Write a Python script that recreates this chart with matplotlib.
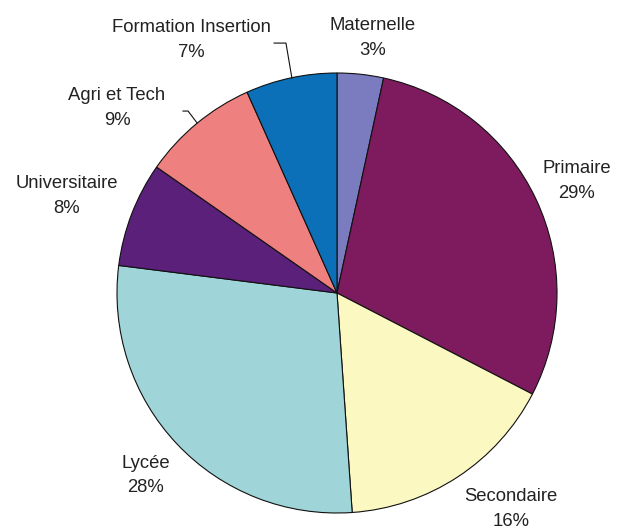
import matplotlib
matplotlib.use("Agg")
import matplotlib.pyplot as plt

categories = ["Maternelle", "Primaire", "Secondaire", "Lycée",
              "Universitaire", "Agri et Tech", "Formation Insertion"]
shares = [3.4, 29.2, 16.3, 28.1, 7.7, 8.6, 6.7]
colors = ["#7b7bc0", "#7e1b5e", "#fcf8c2", "#9fd5d8",
          "#5b2079", "#ee8080", "#0b70b8"]

# label anchors (pie radius = 1) and leader lines
label_pos = [(0.16, 1.16), (1.09, 0.51), (0.79, -0.98), (-0.87, -0.83),
             (-1.23, 0.44), (-1.00, 0.84), (-0.66, 1.15)]
leaders = {
    "Formation Insertion": ([-0.286, -0.232, -0.205], [1.136, 1.136, 0.977]),
    "Agri et Tech": ([-0.700, -0.677, -0.636], [0.827, 0.827, 0.773]),
}

plt.rcParams["font.family"] = ["Liberation Sans", "DejaVu Sans"]

fig = plt.figure(figsize=(6.18, 5.29), dpi=100)
ax = fig.add_axes([117 / 618, 16 / 529, 440 / 618, 440 / 529])

ax.pie(shares, colors=colors, startangle=90, counterclock=False, radius=1,
       wedgeprops=dict(edgecolor="#111111", linewidth=0.8))

for name, val, (x, y) in zip(categories, shares, label_pos):
    ax.text(x, y, f"{name}\n{val:.0f}%", ha="center", va="center",
            fontsize=13.3, color="#222222", linespacing=1.6)

for xs, ys in leaders.values():
    ax.plot(xs, ys, color="#111111", linewidth=0.8, clip_on=False)

ax.set_xlim(-1, 1)
ax.set_ylim(-1, 1)
ax.set_aspect("equal")
ax.axis("off")

fig.savefig("out.png", dpi=100)
